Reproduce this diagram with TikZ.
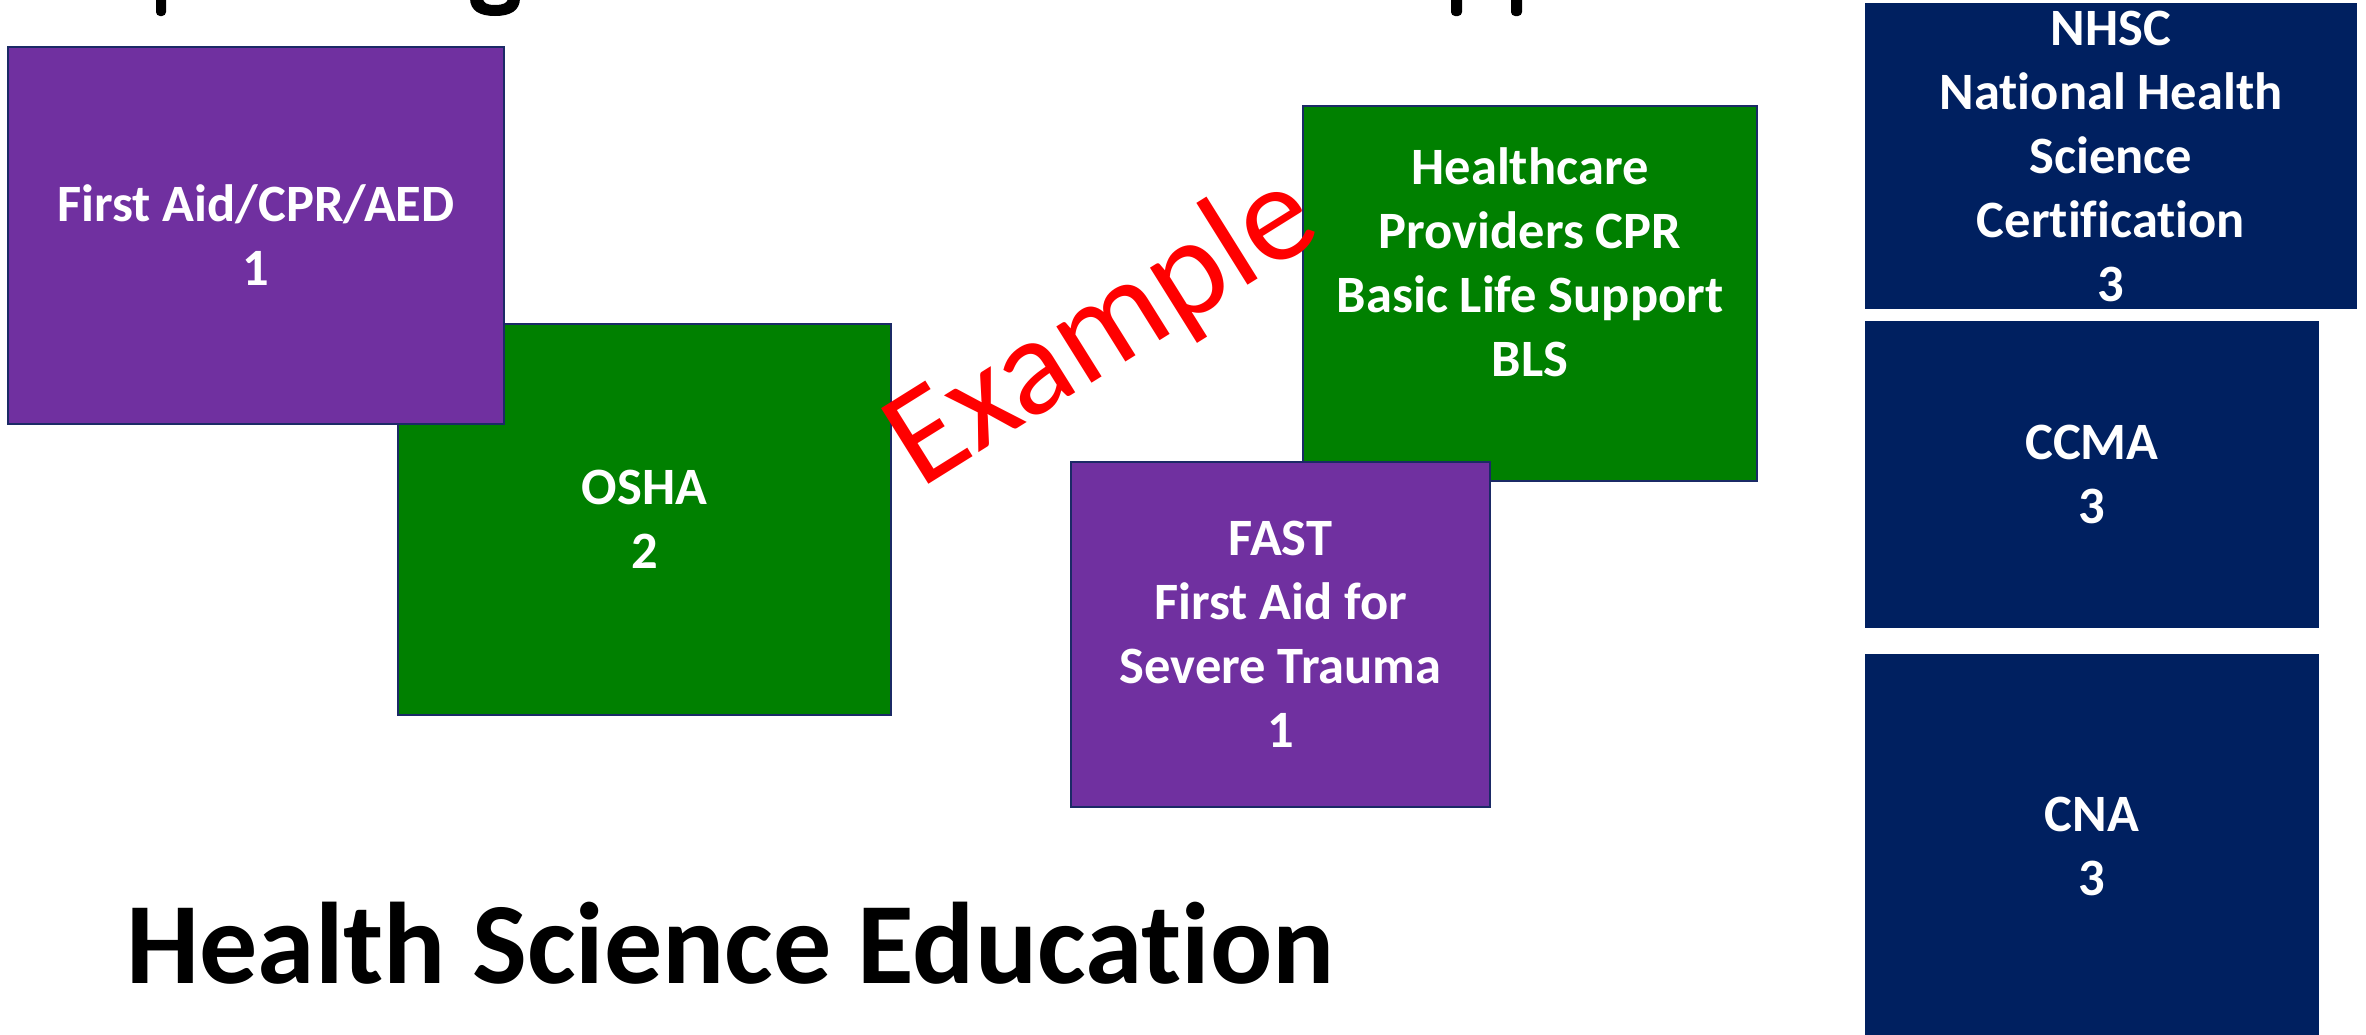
\documentclass[tikz,border=0pt]{standalone}
\usepackage{fontspec}
\setmainfont{Carlito}[Ligatures={NoCommon}]
\definecolor{boxpurple}{HTML}{7030A0}
\definecolor{boxgreen}{HTML}{008000}
\definecolor{boxnavy}{HTML}{002060}
\definecolor{boxline}{HTML}{1B2A66}
\definecolor{exred}{HTML}{FF0000}
\tikzset{
  x=1pt, y=-1pt,
  cbox/.style={rectangle, draw=boxline, line width=2.5pt, inner sep=0pt,
    text=white, align=center, font=\bfseries\fontsize{52.5}{64}\selectfont},
  navybox/.style={rectangle, fill=boxnavy, draw=none, inner sep=0pt,
    text=white, align=center, font=\bfseries\fontsize{52.5}{64}\selectfont},
  boxtext/.style={text=white, align=center, inner sep=0pt,
    font=\bfseries\fontsize{52.5}{64}\selectfont},
  descender/.style={fill=black, draw=none}
}
\begin{document}
\begin{tikzpicture}
\useasboundingbox (0,0) rectangle (2366,1034);
\clip (0,0) rectangle (2366,1034);
\fill[white] (0,0) rectangle (2366,1034);

% descenders of the cut-off title
\fill[descender, rounded corners=4pt] (156,-8) rectangle (166,16);
\fill[descender, rounded corners=4pt] (1451,-8) rectangle (1462,16);
\fill[descender, rounded corners=4pt] (1511,-8) rectangle (1522,16);
\fill[descender] (470,-2) .. controls (470,11) and (480,16) .. (495,16)
  .. controls (510,16) and (520,11) .. (520,-2) -- (508,-2)
  .. controls (508,3) and (503,5) .. (495,5)
  .. controls (487,5) and (483,3) .. (483,-2) -- cycle;

% left pair
\node[cbox, fill=boxgreen, minimum width=493pt, minimum height=391pt] (osha) at (644.5,519.5) {OSHA\\2};
\node[cbox, fill=boxpurple, minimum width=496pt, minimum height=377pt] (fa) at (256,235.5) {First Aid/CPR/AED\\1};

% middle pair
\node[cbox, fill=boxgreen, minimum width=454pt, minimum height=375pt] (hcp) at (1530,293.5) {};
\node[boxtext] (hcptext) at (1530,262) {Healthcare\\Providers CPR\\Basic Life Support\\BLS};
\node[cbox, fill=boxpurple, minimum width=419pt, minimum height=345pt] (fast) at (1280.5,634.5) {FAST\\First Aid for\\Severe Trauma\\1};

% right column
\node[navybox, minimum width=492pt, minimum height=306pt] (nhsc) at (2111,156) {NHSC\\National Health\\Science\\Certification\\3};
\node[navybox, minimum width=454pt, minimum height=307pt] (ccma) at (2092,474.5) {CCMA\\3};
\node[navybox, minimum width=454pt, minimum height=385pt] (cna) at (2092,846.5) {CNA\\3};

% title at bottom
\node[anchor=base west, inner sep=0pt, font=\bfseries\fontsize{116}{140}\selectfont] (hse) at (126,983) {Health Science Education};

% watermark
\node[anchor=base west, inner sep=0pt, rotate=32, text=exred, font=\fontsize{139}{160}\selectfont] (ex) at (920,490) {Example};
\end{tikzpicture}
\end{document}
